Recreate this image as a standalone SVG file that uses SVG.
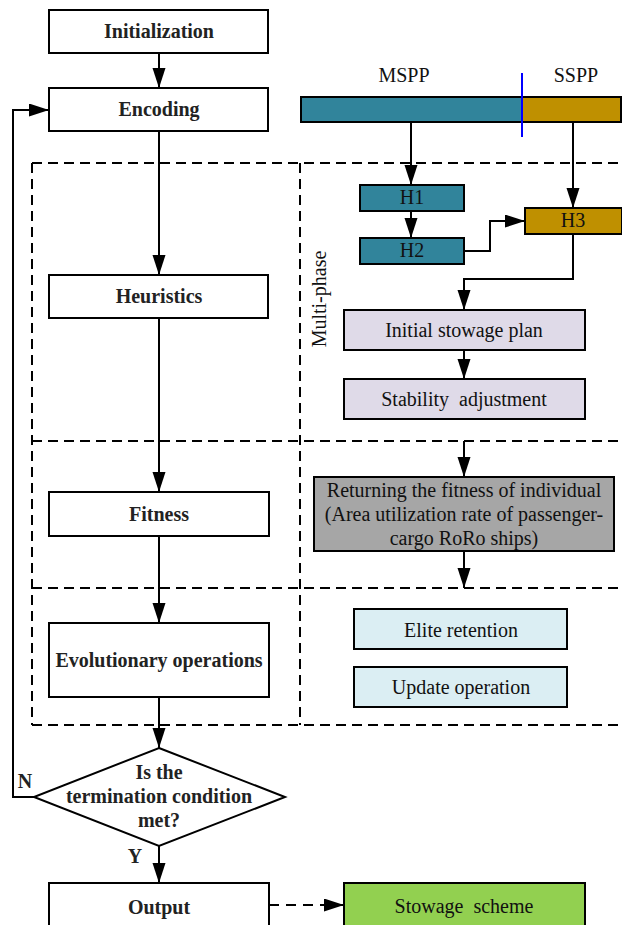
<svg xmlns="http://www.w3.org/2000/svg" width="622" height="925" viewBox="0 0 622 925">
<defs>
<marker id="ah" markerUnits="userSpaceOnUse" markerWidth="20" markerHeight="14" refX="20" refY="6.5" orient="auto">
<path d="M0,0 L20,6.5 L0,13 z" fill="#000"/>
</marker>
<style>
.box{fill:#fff;stroke:#000;stroke-width:2}
.b{font-family:"Liberation Serif",serif;font-weight:bold;font-size:20px;fill:#222;text-anchor:middle}
.r{font-family:"Liberation Serif",serif;font-size:20px;fill:#111;text-anchor:middle}
.ln{fill:none;stroke:#000;stroke-width:2}
.dash{fill:none;stroke:#000;stroke-width:2;stroke-dasharray:10 6}
.teal{fill:#31849b;stroke:#000;stroke-width:2}
.gold{fill:#bf9000;stroke:#000;stroke-width:2}
.lav{fill:#dfdae8;stroke:#000;stroke-width:2}
.gray{fill:#a6a6a6;stroke:#000;stroke-width:2}
.lblue{fill:#dbeef3;stroke:#000;stroke-width:2}
.green{fill:#92d050;stroke:#000;stroke-width:2}
</style>
</defs>
<rect width="622" height="925" fill="#fff"/>
<g id="regions">
<line class="dash" x1="32" y1="163" x2="622" y2="163"/>
<line class="dash" x1="32" y1="441" x2="622" y2="441"/>
<line class="dash" x1="32" y1="588" x2="622" y2="588"/>
<line class="dash" x1="32" y1="725" x2="622" y2="725"/>
<line class="dash" x1="32" y1="163" x2="32" y2="725"/>
<line class="dash" x1="300" y1="163" x2="300" y2="725"/>
<text class="r" transform="translate(326,299) rotate(-90)">Multi-phase</text>
</g>
<g id="connectors">
<line class="ln" x1="159" y1="53" x2="159" y2="88" marker-end="url(#ah)"/>
<line class="ln" x1="159" y1="131" x2="159" y2="275" marker-end="url(#ah)"/>
<line class="ln" x1="159" y1="318" x2="159" y2="492" marker-end="url(#ah)"/>
<line class="ln" x1="159" y1="536" x2="159" y2="623" marker-end="url(#ah)"/>
<line class="ln" x1="159" y1="697" x2="159" y2="748" marker-end="url(#ah)"/>
<line class="ln" x1="159" y1="846" x2="159" y2="883" marker-end="url(#ah)"/>
<polyline class="ln" points="34,797 13,797 13,110 49,110" marker-end="url(#ah)"/>
<line class="ln" x1="269" y1="905" x2="344" y2="905" stroke-dasharray="10 7" marker-end="url(#ah)"/>
<line class="ln" x1="411" y1="122" x2="411" y2="185" marker-end="url(#ah)"/>
<line class="ln" x1="411" y1="211" x2="411" y2="238" marker-end="url(#ah)"/>
<line class="ln" x1="573" y1="122" x2="573" y2="208" marker-end="url(#ah)"/>
<polyline class="ln" points="464,251 490,251 490,221 525,221" marker-end="url(#ah)"/>
<polyline class="ln" points="573,234 573,279 464,279 464,310" marker-end="url(#ah)"/>
<line class="ln" x1="464" y1="350" x2="464" y2="379" marker-end="url(#ah)"/>
<line class="ln" x1="464" y1="441" x2="464" y2="477" marker-end="url(#ah)"/>
<line class="ln" x1="464" y1="551" x2="464" y2="588" marker-end="url(#ah)"/>
<text class="b" x="25" y="788" font-size="18">N</text>
<text class="b" x="135" y="863" font-size="18">Y</text>
</g>
<g id="initialization"><rect class="box" x="49" y="10" width="219" height="43"/><text class="b" x="159" y="38">Initialization</text></g>
<g id="encoding"><rect class="box" x="49" y="88" width="219" height="43"/><text class="b" x="159" y="116">Encoding</text></g>
<g id="heuristics"><rect class="box" x="49" y="275" width="219" height="43"/><text class="b" x="159" y="303">Heuristics</text></g>
<g id="fitness"><rect class="box" x="49" y="492" width="220" height="44"/><text class="b" x="159" y="521">Fitness</text></g>
<g id="evolutionary"><rect class="box" x="49" y="623" width="220" height="74"/><text class="b" x="159" y="667">Evolutionary operations</text></g>
<g id="decision"><polygon class="box" points="159,748 285,797 159,846 34,797"/>
<text class="b" x="159" y="779">Is the</text>
<text class="b" x="159" y="803">termination condition</text>
<text class="b" x="159" y="827">met?</text></g>
<g id="output"><rect class="box" x="49" y="883" width="220" height="60"/><text class="b" x="159" y="914">Output</text></g>
<g id="chromosome">
<rect class="teal" x="301" y="97" width="221" height="25"/>
<rect class="gold" x="522" y="97" width="99" height="25"/>
<line x1="522" y1="73" x2="522" y2="137" stroke="#0000ff" stroke-width="2"/>
<text class="r" x="404" y="82">MSPP</text>
<text class="r" x="576" y="82">SSPP</text>
</g>
<g id="h1"><rect class="teal" x="360" y="185" width="104" height="26"/><text class="r" x="412" y="204" font-size="19">H1</text></g>
<g id="h2"><rect class="teal" x="360" y="238" width="104" height="26"/><text class="r" x="412" y="257" font-size="19">H2</text></g>
<g id="h3"><rect class="gold" x="525" y="208" width="97" height="26"/><text class="r" x="573" y="227" font-size="19">H3</text></g>
<g id="initial-plan"><rect class="lav" x="344" y="310" width="241" height="40"/><text class="r" x="464" y="337">Initial stowage plan</text></g>
<g id="stability"><rect class="lav" x="344" y="379" width="241" height="40"/><text class="r" x="464" y="406" xml:space="preserve">Stability  adjustment</text></g>
<g id="fitness-return"><rect class="gray" x="314" y="477" width="300" height="74"/>
<text class="r" x="464" y="497">Returning the fitness of individual</text>
<text class="r" x="464" y="521">(Area utilization rate of passenger-</text>
<text class="r" x="464" y="545">cargo RoRo ships)</text></g>
<g id="elite"><rect class="lblue" x="354" y="609" width="213" height="40"/><text class="r" x="461" y="637">Elite retention</text></g>
<g id="update"><rect class="lblue" x="354" y="667" width="213" height="40"/><text class="r" x="461" y="694">Update operation</text></g>
<g id="stowage-scheme"><rect class="green" x="344" y="883" width="241" height="60"/><text class="r" x="464" y="913" xml:space="preserve">Stowage  scheme</text></g>
</svg>
